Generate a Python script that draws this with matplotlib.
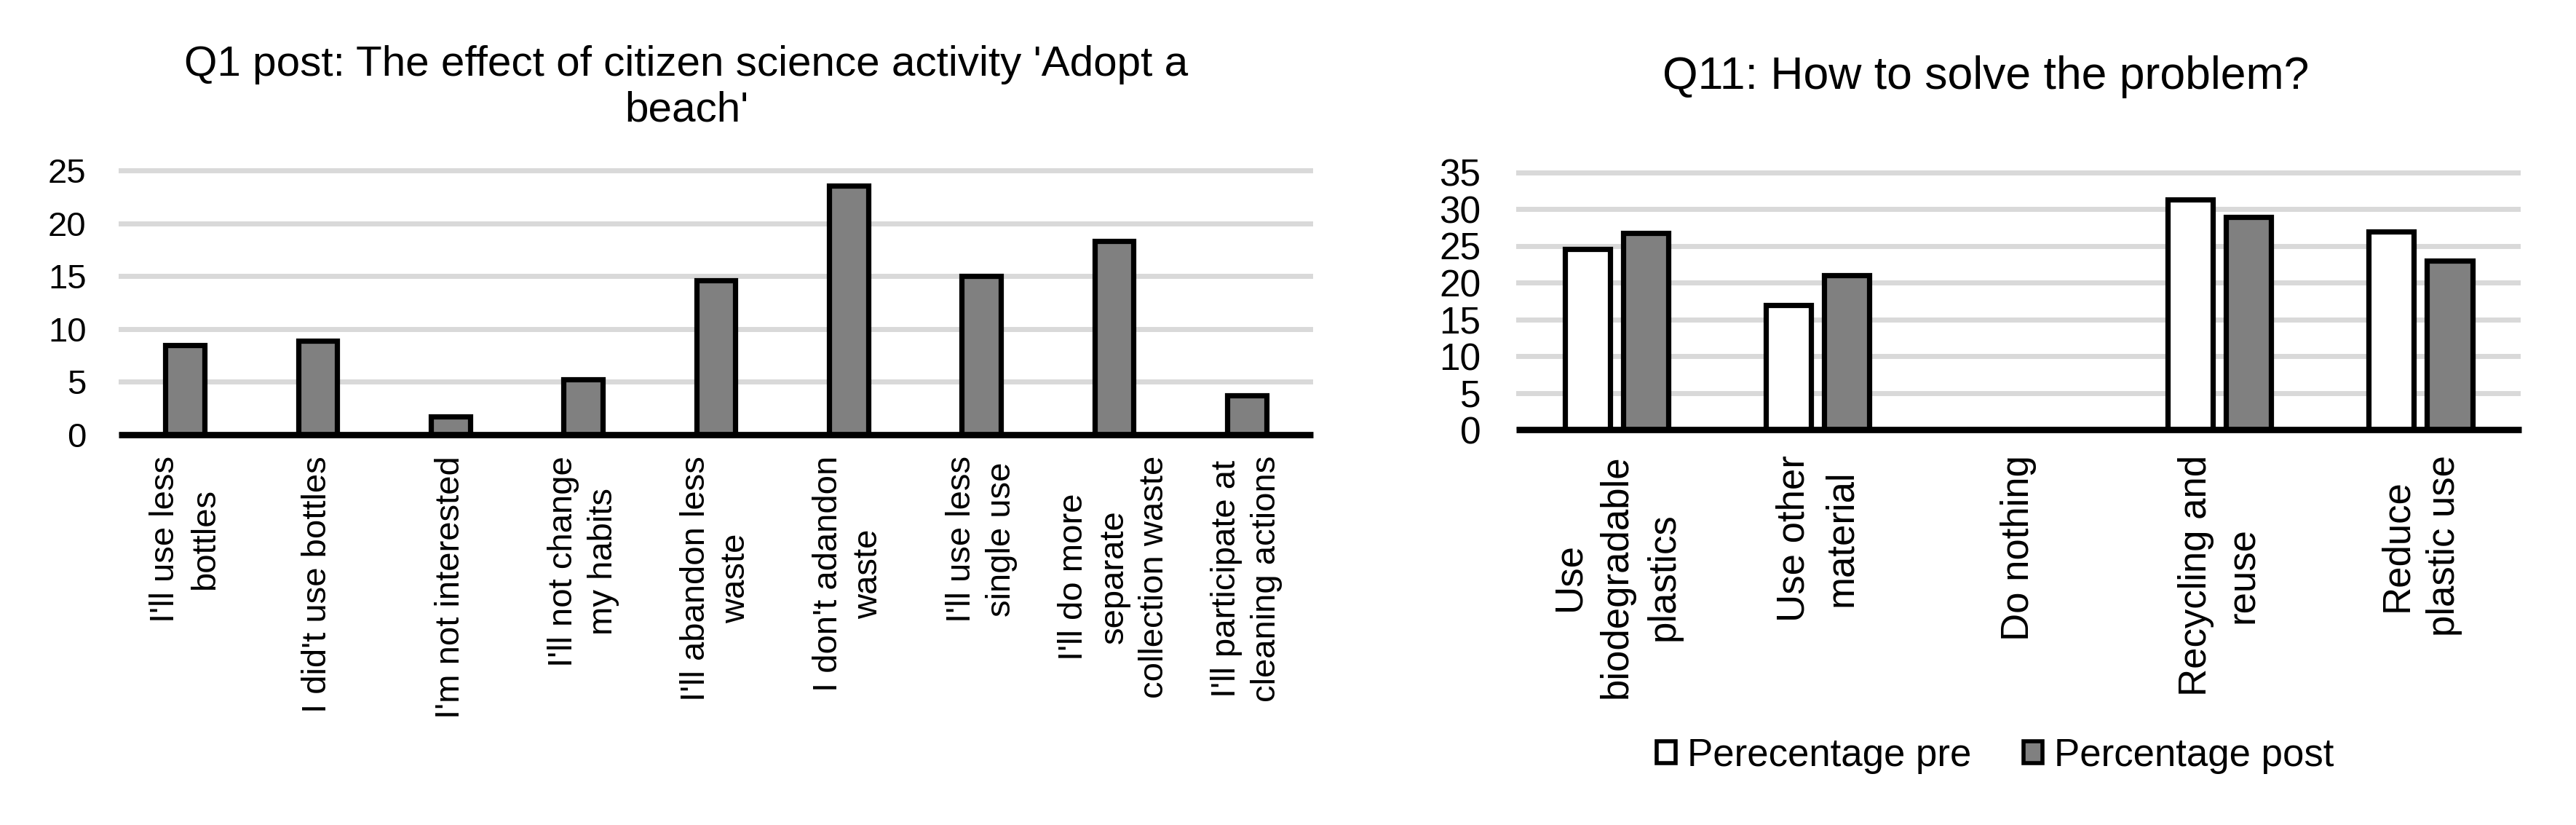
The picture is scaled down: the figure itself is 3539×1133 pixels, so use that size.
import matplotlib
matplotlib.use("Agg")
import matplotlib.pyplot as plt
import numpy as np

plt.rcParams['font.family'] = ['Liberation Sans', 'DejaVu Sans']

# ---------------- data ----------------
q1_title = "Q1 post: The effect of citizen science activity 'Adopt a\nbeach'"
q1_labels = [
    "I'll use less\nbottles",
    "I did't use bottles",
    "I'm not interested",
    "I'll not change\nmy habits",
    "I'll abandon less\nwaste",
    "I don't adandon\nwaste",
    "I'll use less\nsingle use",
    "I'll do more\nseparate\ncollection waste",
    "I'll participate at\ncleaning actions",
]
q1_values = [8.5, 8.9, 1.7, 5.2, 14.6, 23.6, 15.0, 18.3, 3.7]
q1_yticks = [0, 5, 10, 15, 20, 25]

q11_title = "Q11: How to solve the problem?"
q11_labels = [
    "Use\nbiodegradable\nplastics",
    "Use other\nmaterial",
    "Do nothing",
    "Recycling and\nreuse",
    "Reduce\nplastic use",
]
q11_pre = [24.6, 16.9, 0.0, 31.3, 26.9]
q11_post = [26.7, 21.0, 0.0, 28.9, 23.0]
q11_yticks = [0, 5, 10, 15, 20, 25, 30, 35]
legend_labels = ["Perecentage pre", "Percentage post"]

# ---------------- style ----------------
W, H = 3539, 1133
GRAY = "#808080"
GRID = "#d9d9d9"
EDGE_LW = 5.2
GRID_LW = 5.0
AXIS_LW = 6.3

fig = plt.figure(figsize=(W / 100, H / 100), dpi=100)
fig.patch.set_facecolor("white")


def style_axes(ax, ylabelsize, xlabelsize, ypad, xpad):
    for s in ("left", "right", "top"):
        ax.spines[s].set_visible(False)
    ax.spines["bottom"].set_color("black")
    ax.spines["bottom"].set_linewidth(AXIS_LW)
    ax.spines["bottom"].set_capstyle("butt")
    ax.set_axisbelow(True)
    ax.yaxis.grid(True, color=GRID, linewidth=GRID_LW)
    ax.xaxis.grid(False)
    ax.tick_params(axis="both", length=0)
    ax.tick_params(axis="y", labelsize=ylabelsize, pad=ypad)
    ax.tick_params(axis="x", labelsize=xlabelsize, pad=xpad)


# ---------------- left chart ----------------
axL = fig.add_axes([163 / W, 1 - 596.8 / H, 1641 / W, 366.9 / H])
xL = np.arange(len(q1_labels))
axL.bar(xL, q1_values, width=0.296, color=GRAY, edgecolor="black",
        linewidth=EDGE_LW, zorder=2)
axL.set_xlim(-0.5, len(q1_labels) - 0.5)
axL.set_ylim(0, 25.3)
axL.set_yticks(q1_yticks)
axL.set_xticks(xL)
axL.set_xticklabels(q1_labels, rotation=90, linespacing=1.33)
style_axes(axL, 34, 34, 32, 21)

fig.text(943 / W, 1 - 62 / H, q1_title, ha="center", va="top",
         fontsize=42, linespacing=1.2, multialignment="center")

# ---------------- right chart ----------------
axR = fig.add_axes([2083 / W, 1 - 590 / H, 1380.5 / W, 357.5 / H])
xR = np.arange(len(q11_labels))
bw = 0.225
off = 0.145
b1 = axR.bar(xR - off, q11_pre, width=bw, color="white", edgecolor="black",
             linewidth=EDGE_LW, zorder=2, label=legend_labels[0])
b2 = axR.bar(xR + off, q11_post, width=bw, color=GRAY, edgecolor="black",
             linewidth=EDGE_LW, zorder=2, label=legend_labels[1])
axR.set_xlim(-0.5, len(q11_labels) - 0.5)
axR.set_ylim(0, 35.4)
axR.set_yticks(q11_yticks)
axR.set_xticks(xR)
axR.set_xticklabels(q11_labels, rotation=90, linespacing=1.38)
style_axes(axR, 37, 38, 35, 25)

fig.text(2728 / W, 1 - 122 / H, q11_title, ha="center", va="baseline",
         fontsize=45)

leg = fig.legend(handles=[b1, b2], labels=legend_labels, loc="center",
                 bbox_to_anchor=(2741 / W, 1 - 1038 / H), ncol=2,
                 frameon=False, fontsize=38, handlelength=0.5,
                 handleheight=0.5, handletextpad=0.3, columnspacing=1.35,
                 borderpad=0, borderaxespad=0)
for p in leg.get_patches():
    p.set_linewidth(4.0)

fig.savefig("out.png", dpi=100, facecolor="white")
